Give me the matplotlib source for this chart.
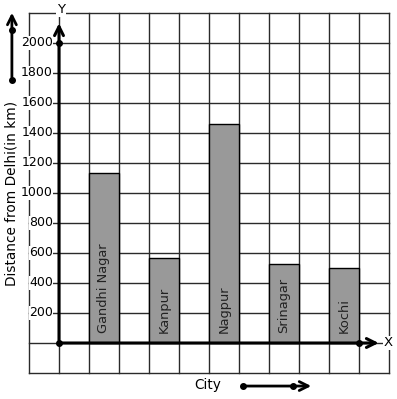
import matplotlib
matplotlib.use("Agg")
import matplotlib.pyplot as plt

cities = ["Gandhi Nagar", "Kanpur", "Nagpur", "Srinagar", "Kochi"]
distances = [1130, 565, 1460, 530, 500]
bar_pos = [1.5, 3.5, 5.5, 7.5, 9.5]
yticks = [200, 400, 600, 800, 1000, 1200, 1400, 1600, 1800, 2000]

fig = plt.figure(figsize=(3.97, 3.99), dpi=100)
ax = fig.add_axes([0, 0, 1, 1])
ax.set_xlim(-59 / 30, 338 / 30)
ax.set_ylim(-56 * 200 / 30, 343 * 200 / 30)
ax.axis("off")

# graph paper
for gx in range(-1, 12):
    ax.plot([gx, gx], [-200, 2200], color="#2a2a2a", lw=1.0, zorder=1)
for gy in range(-200, 2400, 200):
    ax.plot([-1, 11], [gy, gy], color="#2a2a2a", lw=1.0, zorder=1)

ax.bar(bar_pos, distances, width=1, color="#999999", edgecolor="black", lw=1.0, zorder=2)
for x, name in zip(bar_pos, cities):
    ax.text(x, 65, name, rotation=90, ha="center", va="bottom", fontsize=9.4, color="#222222", zorder=3)

# axes with arrows
ax.annotate("", xy=(0, 2150), xytext=(0, 0),
            arrowprops=dict(arrowstyle="->", lw=2.2, color="black", mutation_scale=16), zorder=4)
ax.annotate("", xy=(10.75, 0), xytext=(0, 0),
            arrowprops=dict(arrowstyle="->", lw=2.2, color="black", mutation_scale=16), zorder=4)
ax.plot([0, 0, 10], [0, 2000, 0], "o", color="black", ms=4, zorder=5, ls="none")

ax.text(0.07, 2220, "Y", ha="center", va="center", fontsize=9.5,
        bbox=dict(facecolor="white", edgecolor="none", pad=0.5), zorder=5)
ax.text(10.98, 0, "X", ha="center", va="center", fontsize=9.5,
        bbox=dict(facecolor="white", edgecolor="none", pad=0.5), zorder=5)

for t in yticks:
    ax.text(-0.2, t, str(t), ha="right", va="center", fontsize=9,
            bbox=dict(facecolor="white", edgecolor="none", pad=0.3), zorder=5)

ax.text(-1.57, 1000, "Distance from Delhi(in km)", rotation=90, ha="center", va="center", fontsize=9.8, zorder=5)
ax.text(4.97, -280, "City", ha="center", va="center", fontsize=9.8, zorder=5)

# direction arrows beside the labels
ax.annotate("", xy=(-1.57, 2220), xytext=(-1.57, 1753),
            arrowprops=dict(arrowstyle="->", lw=2.0, color="black", mutation_scale=16))
ax.plot([-1.57, -1.57], [1753, 2087], "o", color="black", ms=4)
ax.annotate("", xy=(8.5, -287), xytext=(6.13, -287),
            arrowprops=dict(arrowstyle="->", lw=2.0, color="black", mutation_scale=16))
ax.plot([6.13, 7.8], [-287, -287], "o", color="black", ms=4)

fig.savefig("out.png", dpi=100)
